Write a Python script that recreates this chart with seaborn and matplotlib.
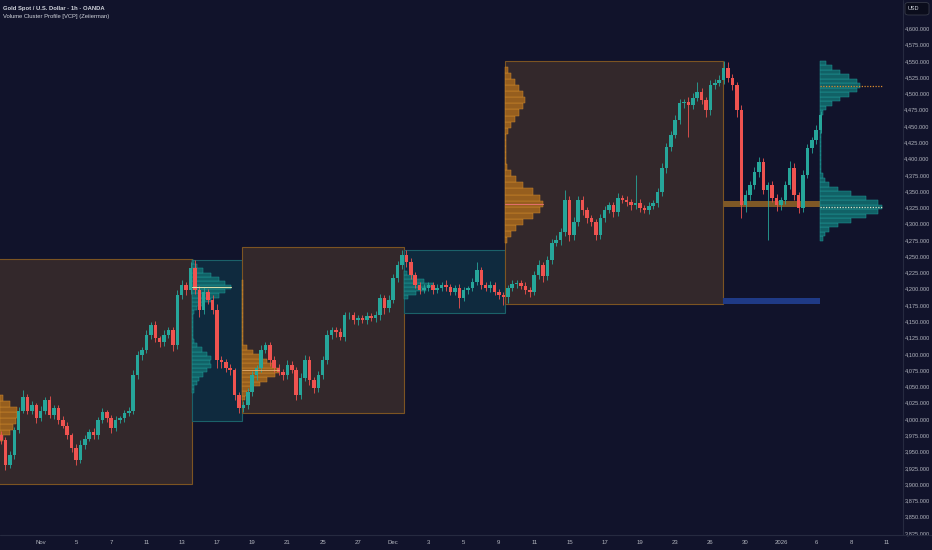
import numpy as np
import pandas as pd
import matplotlib
matplotlib.use("Agg")
import matplotlib.pyplot as plt
import seaborn as sns
from matplotlib.patches import Rectangle, FancyBboxPatch
from matplotlib.lines import Line2D

BG = '#11132b'
sns.set_theme(style='dark', rc={'axes.facecolor': BG, 'figure.facecolor': BG})
plt.rcParams['font.family'] = ['Liberation Sans', 'DejaVu Sans']

# ---------------- data ----------------
title_1 = 'Gold Spot / U.S. Dollar · 1h · OANDA'
title_2 = 'Volume Cluster Profile [VCP] (Zeiierman)'

first_day = -2.25      # trading-day index of first bar (0 = Nov 3)
bar_step = 0.25        # bar spacing in trading days
first_open = 3975

closes = [
    3967, 3929, 3944, 3983, 4013, 4034, 4013, 4021, 4001, 4013, 4029, 4006, 4017, 3998, 3990,
    3975, 3955, 3937, 3960, 3970, 3980, 3975, 3998, 4010, 4001, 3986, 3998, 4001, 4009, 4013,
    4067, 4098, 4106, 4129, 4144, 4124, 4118, 4129, 4136, 4113, 4190, 4206, 4198, 4232,
    4198, 4167, 4195, 4183, 4167, 4090, 4087, 4078, 4075, 4037, 4017, 4021,
    4041, 4067, 4078, 4106, 4113, 4090, 4078, 4072, 4067, 4083, 4075, 4037, 4063, 4090, 4060,
    4047, 4067, 4090, 4129, 4136, 4133, 4126, 4159, 4159, 4152, 4155, 4152, 4158, 4155, 4159,
    4186, 4170, 4183, 4216, 4236, 4252,
    4241, 4221, 4206, 4198, 4201, 4206, 4198, 4201, 4206, 4203, 4195, 4201, 4186, 4198, 4201,
    4210, 4229, 4206, 4201, 4206, 4195, 4190, 4187,
    4201, 4207, 4209, 4204, 4198, 4195, 4221, 4236, 4219, 4244, 4270, 4275, 4287, 4336, 4282,
    4302, 4336, 4321, 4308, 4302, 4282, 4308, 4321, 4328, 4318, 4339, 4336, 4333, 4328, 4332,
    4324, 4321, 4327, 4332, 4348, 4385, 4418, 4436, 4459, 4485, 4487, 4482, 4493, 4502, 4490,
    4474, 4513, 4516, 4521, 4539,
    4524, 4513, 4474, 4328, 4344, 4359, 4379, 4395, 4352, 4359, 4339, 4328, 4336, 4359, 4385,
    4344, 4324, 4375, 4416, 4428, 4444, 4467,
]
wick_up = [
    6, 5, 7, 4, 6, 10, 5, 6, 4, 7, 5, 6, 5, 4, 6, 5, 4, 6, 7, 5, 4, 6, 5, 7, 4, 5, 6, 4, 5, 6,
    8, 6, 5, 7, 5, 6, 4, 7, 5, 6, 8, 7, 5, 9,
    12, 6, 8, 5, 7, 9, 6, 5, 6, 4, 5, 6,
    6, 7, 5, 8, 6, 5, 7, 6, 5, 8, 6, 5, 7, 9, 6, 5, 7, 6, 8, 6, 5, 7, 6, 5, 6, 4, 5, 6, 5, 7,
    6, 5, 8, 7, 6, 7,
    8, 6, 5, 4, 6, 5, 4, 6, 5, 7, 4, 5, 6, 5, 4, 6, 12, 5, 4, 6, 5, 4, 5,
    5, 6, 4, 5, 6, 4, 7, 8, 5, 7, 6, 8, 7, 15, 6, 8, 7, 6, 5, 6, 5, 7, 6, 5, 6, 8, 5, 6, 5, 43,
    6, 5, 6, 5, 7, 8, 6, 7, 8, 6, 5, 7, 8, 15, 6, 5, 8, 6, 7, 11,
    9, 6, 5, 8, 7, 6, 8, 7, 6, 5, 6, 7, 5, 6, 12, 8, 5, 7, 6, 5, 7, 6,
]
wick_dn = [
    6, 8, 5, 6, 5, 4, 6, 5, 7, 4, 6, 5, 6, 5, 4, 6, 5, 8, 5, 6, 4, 5, 6, 4, 5, 7, 5, 4, 6, 5,
    6, 5, 7, 5, 6, 5, 7, 6, 5, 8, 6, 5, 7, 6,
    6, 11, 5, 7, 6, 12, 8, 6, 7, 8, 8, 6,
    6, 5, 7, 6, 5, 8, 6, 5, 7, 6, 5, 8, 6, 5, 8, 7, 5, 6, 5, 6, 7, 5, 6, 5, 6, 7, 5, 6, 5, 6,
    7, 8, 6, 5, 6, 5,
    7, 6, 5, 6, 5, 4, 6, 5, 4, 6, 5, 4, 16, 5, 6, 5, 4, 6, 5, 6, 5, 6, 12,
    9, 5, 6, 5, 6, 7, 5, 6, 8, 5, 6, 5, 7, 6, 9, 7, 6, 8, 7, 6, 7, 5, 6, 5, 7, 6, 5, 6, 7, 5,
    6, 5, 6, 5, 6, 5, 7, 6, 5, 6, 7, 49, 6, 5, 6, 10, 7, 6, 5, 6,
    6, 8, 10, 20, 10, 7, 6, 8, 7, 77, 6, 8, 7, 6, 5, 8, 8, 6, 5, 7, 6, 5,
]

x_tick_days = list(range(0, 49, 2))
x_tick_labels = ['Nov', '5', '7', '11', '13', '17', '19', '21', '25', '27', 'Dec', '3', '5',
                 '9', '11', '15', '17', '19', '23', '26', '30', '2026', '6', '8', '11']
y_ticks = list(range(3825, 4601, 25))

# cluster boxes (trading-day index / price)
box_left = [-2.6, 8.60, 11.40, 20.60, 26.34]
box_right = [8.60, 11.40, 20.60, 26.32, 38.70]
box_low = [3900, 3997, 4009, 4163, 4176]
box_high = [4245, 4244, 4264, 4259, 4550]
box_kind = ['orange', 'teal', 'orange', 'teal', 'orange']

# volume profiles: left edge (day), bottom price, row height, relative volumes (bottom -> top)
prof_left = [-2.31, 8.60, 11.40, 20.60, 26.34, 44.22]
prof_bottom = [3966, 4039.6, 4028.9, 4184.1, 4270.1, 4273.6]
prof_step = [8.8, 6.39, 7.07, 6.15, 9.33, 6.915]
prof_kind = ['orange', 'teal', 'orange', 'teal', 'orange', 'teal']
prof_vol = [
    [2.7, 10, 13, 16, 17, 16.7, 10, 2.7],
    [2, 2, 4.3, 7, 11, 14.3, 18.3, 17.7, 18.3, 14.3, 9.3, 4.3,
     1.5, 1, 1, 1, 1, 1, 1, 1.5,
     4.3, 11, 18.3, 27, 32.7, 38.7, 32.7, 27, 18.3, 11, 4.3, 2],
    [3.3, 5.7, 11.7, 18.3, 25, 33.3, 37.3, 31.7, 25, 18.3, 11.7, 5.7,
     1, 1, 1, 1, 1, 1, 1, 1, 1, 1, 1, 1, 1, 1],
    [4, 12, 22, 29, 20, 10, 3],
    [2.3, 5.7, 11, 18.3, 27.7, 35, 38.3, 35, 27.7, 18.3, 11, 5.7, 2.3,
     1, 1, 1, 1, 1,
     3, 5.7, 9.7, 14.3, 18.3, 20.3, 18.3, 14.3, 9.7, 5.7, 3],
    [2.7, 5, 9.3, 18.3, 30.7, 45.7, 57.7, 62.3, 57.7, 45.7, 30.7, 18.3, 9.3, 5, 2.7,
     1, 1, 1, 1, 1, 1, 1, 1, 1, 1, 1, 1, 1,
     3.3, 6, 12, 20, 29.3, 36.7, 40, 36.7, 29.3, 20, 12, 6],
]
vol_per_day = 17.625   # relative volume units per trading day of width

# extension zones of the last finished profile
zone_left = 38.70
zone_right = 44.22
poc_zone = (4325.4, 4334.6)
low_zone = (4175.9, 4185.1)
poc_ext_right = 47.8

assert len(closes) == len(wick_up) == len(wick_dn)

# ---------------- build frame ----------------
n = len(closes)
days = first_day + bar_step * np.arange(n)
opens = np.r_[first_open, closes[:-1]]
df = pd.DataFrame({'day': days, 'open': opens, 'close': closes})
df['top'] = df[['open', 'close']].max(axis=1)
df['bot'] = df[['open', 'close']].min(axis=1)
df['high'] = df['top'] + np.array(wick_up)
df['low'] = df['bot'] - np.array(wick_dn)
df['up'] = df['close'] >= df['open']

UP = '#26a69a'
DN = '#ef5350'
COL = {
    'orange': dict(box_face='#33282b', box_edge='#7c5422', bar_face='#9c621e', bar_edge='#d08a2c'),
    'teal': dict(box_face='#0f2a3e', box_edge='#1b6169', bar_face='#12666a', bar_edge='#1f9c9a'),
}

fig = plt.figure(figsize=(9.32, 5.5), dpi=100)
fig.patch.set_facecolor(BG)
ax = fig.add_axes([0, 14.7 / 550, 902.7 / 932, 535.3 / 550])
ax.set_facecolor(BG)

# boxes
for l, r, lo, hi, k in zip(box_left, box_right, box_low, box_high, box_kind):
    c = COL[k]
    ax.add_patch(Rectangle((l, lo), r - l, hi - lo, facecolor=c['box_face'],
                           edgecolor=c['box_edge'], lw=0.8, zorder=1))

# zones
ax.add_patch(Rectangle((zone_left, poc_zone[0]), zone_right - zone_left, poc_zone[1] - poc_zone[0],
                       facecolor='#7e5826', edgecolor='none', zorder=2))
ax.add_patch(Rectangle((zone_left, low_zone[0]), zone_right - zone_left, low_zone[1] - low_zone[0],
                       facecolor='#1f3a86', edgecolor='none', zorder=2))

# profiles
poc_rows = []
for left, bottom, step, kind, vols in zip(prof_left, prof_bottom, prof_step, prof_kind, prof_vol):
    c = COL[kind]
    vols = np.array(vols, dtype=float)
    levels = bottom + step * np.arange(len(vols))
    ax.barh(levels, vols / vol_per_day, left=left, height=step, align='edge',
            color=c['bar_face'], edgecolor=c['bar_edge'], linewidth=0.35, alpha=0.95, zorder=2)
    big = vols > 1.6
    clusters, cur = [], []
    for i in range(len(vols)):
        if big[i]:
            cur.append(i)
        elif cur:
            clusters.append(cur); cur = []
    if cur:
        clusters.append(cur)
    for cl in clusters:
        j = cl[int(np.argmax(vols[cl]))]
        poc_rows.append((left, levels[j] + step / 2, vols[j] / vol_per_day, kind, len(vols)))

# POC lines
for left, lvl, w, kind, nrows in poc_rows:
    if kind == 'teal' and nrows == 32 and lvl > 4150:
        sns.lineplot(x=[left, left + w], y=[lvl, lvl], ax=ax, color='#d6dca8', lw=0.8, zorder=4)
    if kind == 'orange' and nrows == 29 and lvl < 4400:
        sns.lineplot(x=[left, left + w], y=[lvl, lvl], ax=ax, color='#e0706a', lw=0.8, zorder=4)
    if kind == 'orange' and nrows == 26:
        sns.lineplot(x=[left, left + w], y=[lvl, lvl], ax=ax, color='#e6b070', lw=0.6, zorder=4)
    if nrows == 40:
        colr = '#d98a2e' if lvl > 4400 else '#d8e4c8'
        ax.plot([left, poc_ext_right], [lvl, lvl], color=colr, lw=0.9, ls=(0, (1, 1.2)), zorder=4)

# candles
colors = np.where(df['up'], UP, DN)
ax.vlines(df['day'], df['low'], df['high'], colors=colors, lw=0.6, zorder=3)
body = (df['top'] - df['bot']).clip(lower=1.2)
ax.bar(df['day'], body, bottom=df['bot'], width=0.2, color=colors, linewidth=0, zorder=3)

# axes cosmetics
ax.set_xlim(-2.31, 48.91)
ax.set_ylim(3821.4, 4643.5)
ax.grid(False)
for s in ax.spines.values():
    s.set_visible(False)
ax.set_xticks(x_tick_days)
ax.set_xticklabels(x_tick_labels)
ax.set_yticks(y_ticks)
ax.set_yticklabels([f'{v:,.3f}' for v in y_ticks])
ax.yaxis.tick_right()
# right-aligned price labels ending ~2 px from the figure edge
ax.tick_params(axis='y', length=0, pad=19.4, labelsize=4.1, labelcolor='#b2b5be')
for t in ax.get_yticklabels():
    t.set_horizontalalignment('right')
ax.tick_params(axis='x', length=0, pad=3.2, labelsize=4.3, labelcolor='#b2b5be')
ax.set_xlabel('')
ax.set_ylabel('')

# separators
sep = '#262a40'
fig.add_artist(Line2D([902.7 / 932] * 2, [14.7 / 550, 1], transform=fig.transFigure, color=sep, lw=0.8))
fig.add_artist(Line2D([0, 1], [14.7 / 550] * 2, transform=fig.transFigure, color=sep, lw=0.8))

# titles
fig.text(3 / 932, 1 - 8.3 / 550, title_1, fontsize=4.2, color='#d1d4dc', weight='bold', va='center', ha='left')
fig.text(3 / 932, 1 - 16.8 / 550, title_2, fontsize=4.2, color='#d1d4dc', va='center', ha='left')

# currency box
fig.add_artist(FancyBboxPatch((905 / 932, 1 - 15 / 550), 24 / 932, 12.5 / 550,
                              boxstyle='round,pad=0,rounding_size=0.004', transform=fig.transFigure,
                              facecolor='#0b0d1c', edgecolor='#363a48', lw=0.6))
fig.text(908 / 932, 1 - 8.6 / 550, 'USD', fontsize=4.0, color='#d1d4dc', va='center', ha='left')

fig.savefig('out.png', dpi=100, facecolor=BG)
